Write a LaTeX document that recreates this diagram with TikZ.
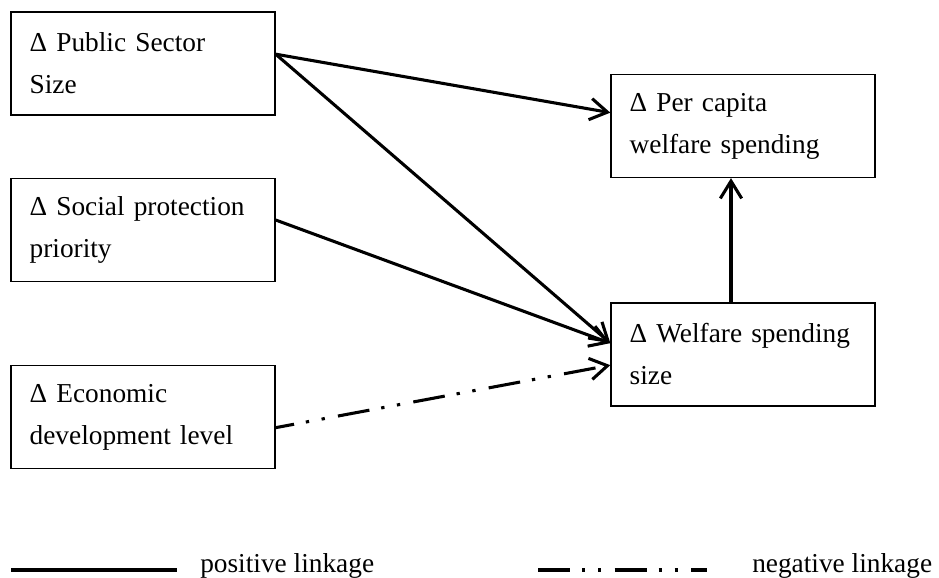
\documentclass[tikz,border=0pt]{standalone}
\usepackage{fontspec}
\setmainfont{Liberation Serif}
\usetikzlibrary{arrows.meta}
\tikzset{
  box/.style={draw, line width=1pt, rectangle, minimum width=198pt, minimum height=77.25pt,
    inner xsep=14pt, text width=170pt, align=left, font=\fontsize{20.5}{31.5}\selectfont},
  link/.style={line width=2.3pt, -{Straight Barb[length=13pt,width=16pt]}},
  neglink/.style={line width=2.3pt, dash pattern=on 24pt off 9pt on 2.5pt off 9.5pt on 2.5pt off 10pt},
  legendtext/.style={anchor=base west, inner sep=0pt, font=\fontsize{20.5}{24}\selectfont}
}
\hyphenpenalty=10000
\begin{document}
\begin{tikzpicture}[x=0.75pt, y=-0.75pt]
  \useasboundingbox (0,0) rectangle (939,578);
  % boxes on the left
  \node[box] (pub) at (143,63.5) {\mbox{Δ Public Sector}\\Size};
  \node[box] (soc) at (143,230) {\mbox{Δ Social protection}\\priority};
  \node[box] (eco) at (143,417) {Δ Economic\\\mbox{development level}};
  % boxes on the right
  \node[box] (pcw) at (743,126) {Δ Per capita\\\mbox{welfare spending}};
  \node[box] (wss) at (743,354.5) {\mbox{Δ Welfare spending}\\size};
  % linkages
  \draw[link] ([yshift=7pt]pub.east) -- ([yshift=10pt]pcw.west);
  \draw[link] ([yshift=7pt]pub.east) -- ([yshift=8.5pt]wss.west);
  \draw[link] ([yshift=7.5pt]soc.east) -- ([yshift=8.5pt]wss.west);
  \draw[link, neglink, dash phase=10pt] ([yshift=-8pt]eco.east) -- ([yshift=-8pt]wss.west);
  \draw[link] ([xshift=-9pt]wss.north) -- ([xshift=-9pt]pcw.south);
  % legend
  \coordinate (posA) at (11,570);
  \coordinate (posB) at (177,570);
  \coordinate (negA) at (538,570);
  \coordinate (negB) at (707,570);
  \draw[line width=2.3pt] (posA) -- (posB);
  \draw[neglink] (negA) -- (negB);
  \node[legendtext] (postext) at (200,572) {positive linkage};
  \node[legendtext] (negtext) at (752,572) {negative linkage};
\end{tikzpicture}
\end{document}
